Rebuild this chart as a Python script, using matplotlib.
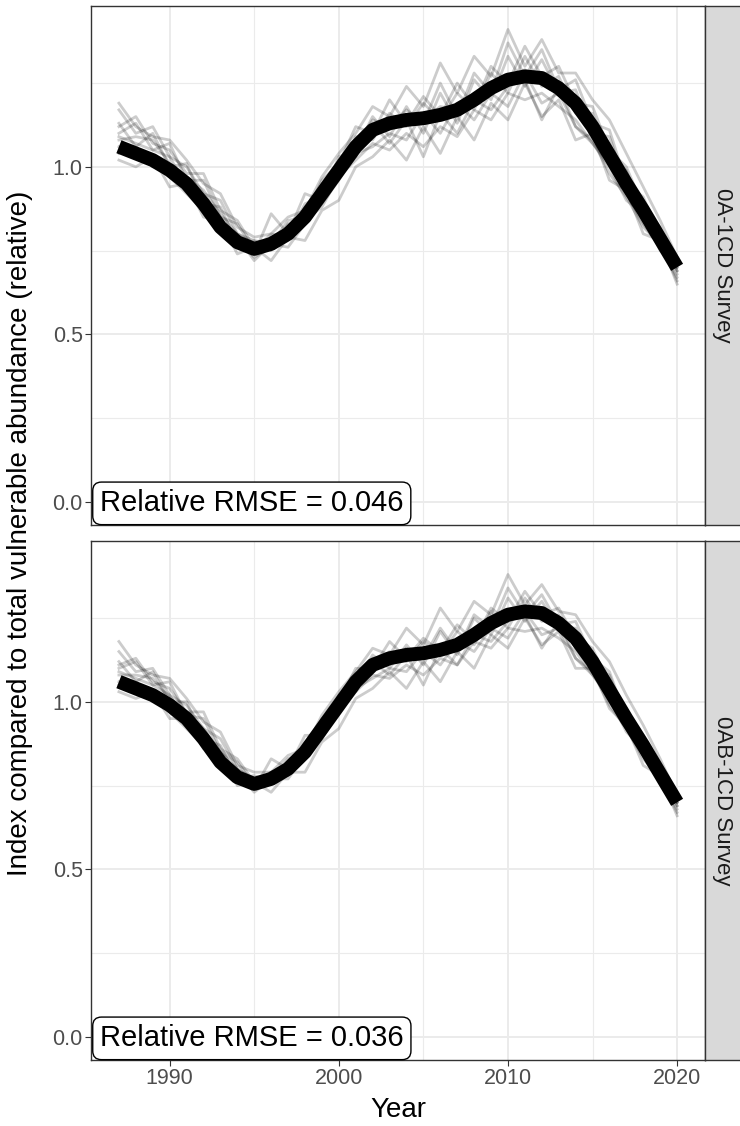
import matplotlib
matplotlib.use("Agg")
import matplotlib.pyplot as plt

plt.rcParams["font.family"] = ["Liberation Sans", "DejaVu Sans"]

years = list(range(1987, 2021))

# true (relative) vulnerable abundance, same in both panels
true_index = [1.06, 1.04, 1.02, 0.99, 0.95, 0.89, 0.82, 0.775, 0.755, 0.77,
              0.80, 0.85, 0.92, 0.99, 1.06, 1.11, 1.13, 1.14, 1.145, 1.155,
              1.17, 1.20, 1.235, 1.26, 1.27, 1.265, 1.235, 1.19, 1.12, 1.035,
              0.95, 0.87, 0.785, 0.70]

# simulated survey indices, 0A-1CD
sims_0a = [
    [1.17, 1.10, 1.12, 1.03, 1.00, 0.92, 0.90, 0.80, 0.78, 0.77, 0.84, 0.85, 0.96, 1.01, 1.12, 1.10, 1.20,
     1.13, 1.21, 1.15, 1.25, 1.18, 1.30, 1.25, 1.36, 1.27, 1.30, 1.19, 1.18, 1.05, 1.00, 0.88, 0.82, 0.70],
    [1.04, 1.06, 1.00, 0.99, 0.93, 0.90, 0.82, 0.78, 0.73, 0.76, 0.78, 0.84, 0.88, 0.97, 1.02, 1.07, 1.05,
     1.10, 1.06, 1.12, 1.09, 1.17, 1.14, 1.22, 1.20, 1.22, 1.18, 1.14, 1.07, 1.01, 0.92, 0.83, 0.76, 0.67],
    [1.10, 1.13, 1.05, 1.07, 0.96, 0.96, 0.85, 0.83, 0.75, 0.80, 0.79, 0.89, 0.91, 1.03, 1.05, 1.15, 1.09,
     1.18, 1.10, 1.22, 1.13, 1.26, 1.20, 1.33, 1.24, 1.32, 1.22, 1.23, 1.10, 1.09, 0.94, 0.90, 0.77, 0.69],
    [1.19, 1.12, 1.09, 1.08, 1.02, 0.95, 0.92, 0.82, 0.79, 0.80, 0.85, 0.87, 0.97, 1.04, 1.10, 1.18, 1.15,
     1.24, 1.18, 1.31, 1.22, 1.33, 1.27, 1.41, 1.30, 1.38, 1.28, 1.28, 1.20, 1.14, 1.04, 0.94, 0.84, 0.73],
    [1.02, 1.00, 1.03, 0.94, 0.95, 0.85, 0.84, 0.74, 0.76, 0.72, 0.79, 0.78, 0.87, 0.90, 1.00, 1.03, 1.08,
     1.02, 1.12, 1.04, 1.15, 1.08, 1.19, 1.14, 1.25, 1.15, 1.20, 1.08, 1.10, 0.96, 0.93, 0.80, 0.78, 0.65],
    [1.08, 1.09, 1.08, 1.01, 0.97, 0.93, 0.86, 0.80, 0.77, 0.78, 0.82, 0.86, 0.93, 0.99, 1.08, 1.11, 1.12,
     1.15, 1.14, 1.18, 1.17, 1.21, 1.24, 1.26, 1.29, 1.25, 1.25, 1.18, 1.13, 1.04, 0.97, 0.86, 0.80, 0.68],
    [1.13, 1.06, 1.10, 1.00, 1.01, 0.89, 0.88, 0.77, 0.78, 0.75, 0.83, 0.83, 0.95, 0.97, 1.09, 1.08, 1.16,
     1.12, 1.19, 1.14, 1.22, 1.17, 1.28, 1.22, 1.33, 1.24, 1.27, 1.16, 1.16, 1.02, 0.99, 0.85, 0.81, 0.69],
    [1.06, 1.04, 1.01, 0.97, 0.92, 0.87, 0.80, 0.77, 0.74, 0.86, 0.80, 0.92, 0.90, 1.02, 1.03, 1.13, 1.07,
     1.14, 1.03, 1.16, 1.10, 1.20, 1.17, 1.24, 1.26, 1.14, 1.24, 1.12, 1.07, 1.00, 0.90, 0.86, 0.75, 0.70],
    [1.12, 1.15, 1.07, 1.05, 0.98, 0.98, 0.87, 0.84, 0.76, 0.79, 0.80, 0.88, 0.92, 1.02, 1.06, 1.14, 1.12,
     1.17, 1.13, 1.25, 1.15, 1.28, 1.22, 1.37, 1.27, 1.35, 1.23, 1.26, 1.13, 1.11, 0.95, 0.91, 0.79, 0.72],
    [1.09, 1.07, 1.05, 1.03, 0.94, 0.91, 0.83, 0.79, 0.72, 0.77, 0.76, 0.83, 0.89, 0.96, 1.04, 1.06, 1.10,
     1.08, 1.16, 1.10, 1.19, 1.14, 1.22, 1.18, 1.28, 1.19, 1.22, 1.12, 1.08, 0.98, 0.91, 0.82, 0.77, 0.66],
]

# simulated survey indices, 0AB-1CD
sims_0ab = [
    [1.15, 1.09, 1.10, 1.02, 0.99, 0.92, 0.89, 0.80, 0.77, 0.77, 0.83, 0.85, 0.95, 1.00, 1.10, 1.10, 1.18,
     1.13, 1.19, 1.15, 1.23, 1.18, 1.28, 1.24, 1.33, 1.26, 1.28, 1.19, 1.16, 1.05, 0.98, 0.88, 0.81, 0.70],
    [1.05, 1.06, 1.01, 0.99, 0.94, 0.90, 0.83, 0.78, 0.74, 0.77, 0.78, 0.84, 0.89, 0.97, 1.03, 1.08, 1.07,
     1.11, 1.08, 1.13, 1.11, 1.18, 1.16, 1.22, 1.21, 1.22, 1.19, 1.15, 1.08, 1.02, 0.93, 0.84, 0.77, 0.68],
    [1.10, 1.12, 1.05, 1.06, 0.96, 0.95, 0.85, 0.82, 0.75, 0.79, 0.79, 0.88, 0.91, 1.02, 1.05, 1.14, 1.10,
     1.17, 1.11, 1.21, 1.14, 1.25, 1.20, 1.31, 1.24, 1.30, 1.22, 1.22, 1.11, 1.08, 0.95, 0.89, 0.78, 0.69],
    [1.18, 1.11, 1.08, 1.07, 1.01, 0.94, 0.91, 0.81, 0.79, 0.79, 0.84, 0.86, 0.96, 1.03, 1.09, 1.16, 1.14,
     1.22, 1.17, 1.28, 1.21, 1.30, 1.26, 1.38, 1.29, 1.35, 1.27, 1.26, 1.18, 1.12, 1.02, 0.93, 0.83, 0.72],
    [1.03, 1.01, 1.03, 0.95, 0.95, 0.86, 0.85, 0.75, 0.76, 0.73, 0.79, 0.79, 0.88, 0.92, 1.01, 1.04, 1.09,
     1.04, 1.12, 1.06, 1.15, 1.10, 1.20, 1.16, 1.25, 1.17, 1.21, 1.10, 1.10, 0.98, 0.93, 0.81, 0.78, 0.66],
    [1.08, 1.08, 1.07, 1.01, 0.97, 0.92, 0.85, 0.80, 0.76, 0.78, 0.81, 0.86, 0.93, 0.99, 1.07, 1.11, 1.12,
     1.15, 1.14, 1.17, 1.17, 1.21, 1.23, 1.26, 1.28, 1.25, 1.24, 1.18, 1.12, 1.04, 0.96, 0.86, 0.79, 0.69],
    [1.12, 1.06, 1.09, 1.00, 1.00, 0.89, 0.87, 0.77, 0.78, 0.76, 0.82, 0.83, 0.94, 0.97, 1.08, 1.09, 1.15,
     1.12, 1.18, 1.14, 1.21, 1.17, 1.27, 1.22, 1.31, 1.24, 1.26, 1.16, 1.15, 1.02, 0.98, 0.85, 0.80, 0.70],
    [1.06, 1.04, 1.01, 0.97, 0.92, 0.87, 0.81, 0.77, 0.74, 0.83, 0.80, 0.90, 0.90, 1.01, 1.03, 1.12, 1.08,
     1.14, 1.05, 1.16, 1.11, 1.20, 1.18, 1.24, 1.26, 1.16, 1.24, 1.13, 1.08, 1.01, 0.91, 0.86, 0.76, 0.70],
    [1.11, 1.13, 1.06, 1.04, 0.97, 0.97, 0.86, 0.83, 0.76, 0.79, 0.80, 0.87, 0.92, 1.01, 1.06, 1.13, 1.12,
     1.16, 1.13, 1.22, 1.15, 1.26, 1.22, 1.34, 1.26, 1.32, 1.23, 1.24, 1.13, 1.09, 0.95, 0.90, 0.79, 0.71],
    [1.09, 1.07, 1.05, 1.02, 0.94, 0.91, 0.83, 0.79, 0.73, 0.77, 0.77, 0.84, 0.89, 0.97, 1.04, 1.07, 1.10,
     1.09, 1.15, 1.11, 1.18, 1.15, 1.22, 1.19, 1.27, 1.20, 1.22, 1.13, 1.09, 0.99, 0.92, 0.83, 0.77, 0.67],
]

surveys = ["0A-1CD Survey", "0AB-1CD Survey"]
rmse = ["0.046", "0.036"]
sims = [sims_0a, sims_0ab]

W, H = 740, 1126
fig = plt.figure(figsize=(W / 100, H / 100), dpi=100)

left, right = 91, 705
tops = [6, 541]
bottoms = [525, 1060]

for i in range(2):
    ax = fig.add_axes([left / W, 1 - bottoms[i] / H, (right - left) / W, (bottoms[i] - tops[i]) / H])

    for s in sims[i]:
        ax.plot(years, s, color="black", alpha=0.2, lw=2.0)
    ax.plot(years, true_index, color="black", lw=10, solid_capstyle="butt", solid_joinstyle="round")

    ax.set_xlim(1985.35, 2021.65)
    ax.set_ylim(-0.069, 1.48)
    ax.set_xticks([1990, 2000, 2010, 2020])
    ax.set_xticks([1995, 2005, 2015], minor=True)
    ax.set_yticks([0.0, 0.5, 1.0])
    ax.set_yticklabels(["0.0", "0.5", "1.0"])
    ax.set_yticks([0.25, 0.75, 1.25], minor=True)
    ax.grid(which="major", color="#EBEBEB", lw=1.4)
    ax.grid(which="minor", color="#EBEBEB", lw=0.8)
    ax.set_axisbelow(True)
    ax.tick_params(which="major", length=4, width=0.8, color="#333333",
                   labelcolor="#4D4D4D", labelsize=15.5, pad=2)
    ax.tick_params(which="minor", length=0)
    if i == 0:
        ax.tick_params(axis="x", which="major", length=0, labelbottom=False)
    for sp in ax.spines.values():
        sp.set_color("#333333")
        sp.set_linewidth(1.0)

    ax.annotate("Relative RMSE = " + rmse[i], xy=(0, 0), xycoords="axes fraction",
                xytext=(6.5, 5.5), textcoords="offset points", ha="left", va="bottom",
                fontsize=21, color="black",
                bbox=dict(boxstyle="round,pad=0.25,rounding_size=0.3", fc="white", ec="black", lw=1.0))

    # facet strip on the right
    st = fig.add_axes([right / W, 1 - bottoms[i] / H, 36 / W, (bottoms[i] - tops[i]) / H])
    st.set_facecolor("#D9D9D9")
    st.set_xticks([])
    st.set_yticks([])
    for sp in st.spines.values():
        sp.set_color("#333333")
        sp.set_linewidth(1.0)
    st.text(0.5, 0.5, surveys[i], rotation=270, ha="center", va="center",
            fontsize=16, color="#1A1A1A", transform=st.transAxes)

fig.text(20 / W, 1 - 533 / H, "Index compared to total vulnerable abundance (relative)",
         rotation=90, ha="center", va="center", fontsize=20)
fig.text((left + right) / 2 / W, 1 - 1110 / H, "Year", ha="center", va="center", fontsize=20)

fig.savefig("out.png", dpi=100)
